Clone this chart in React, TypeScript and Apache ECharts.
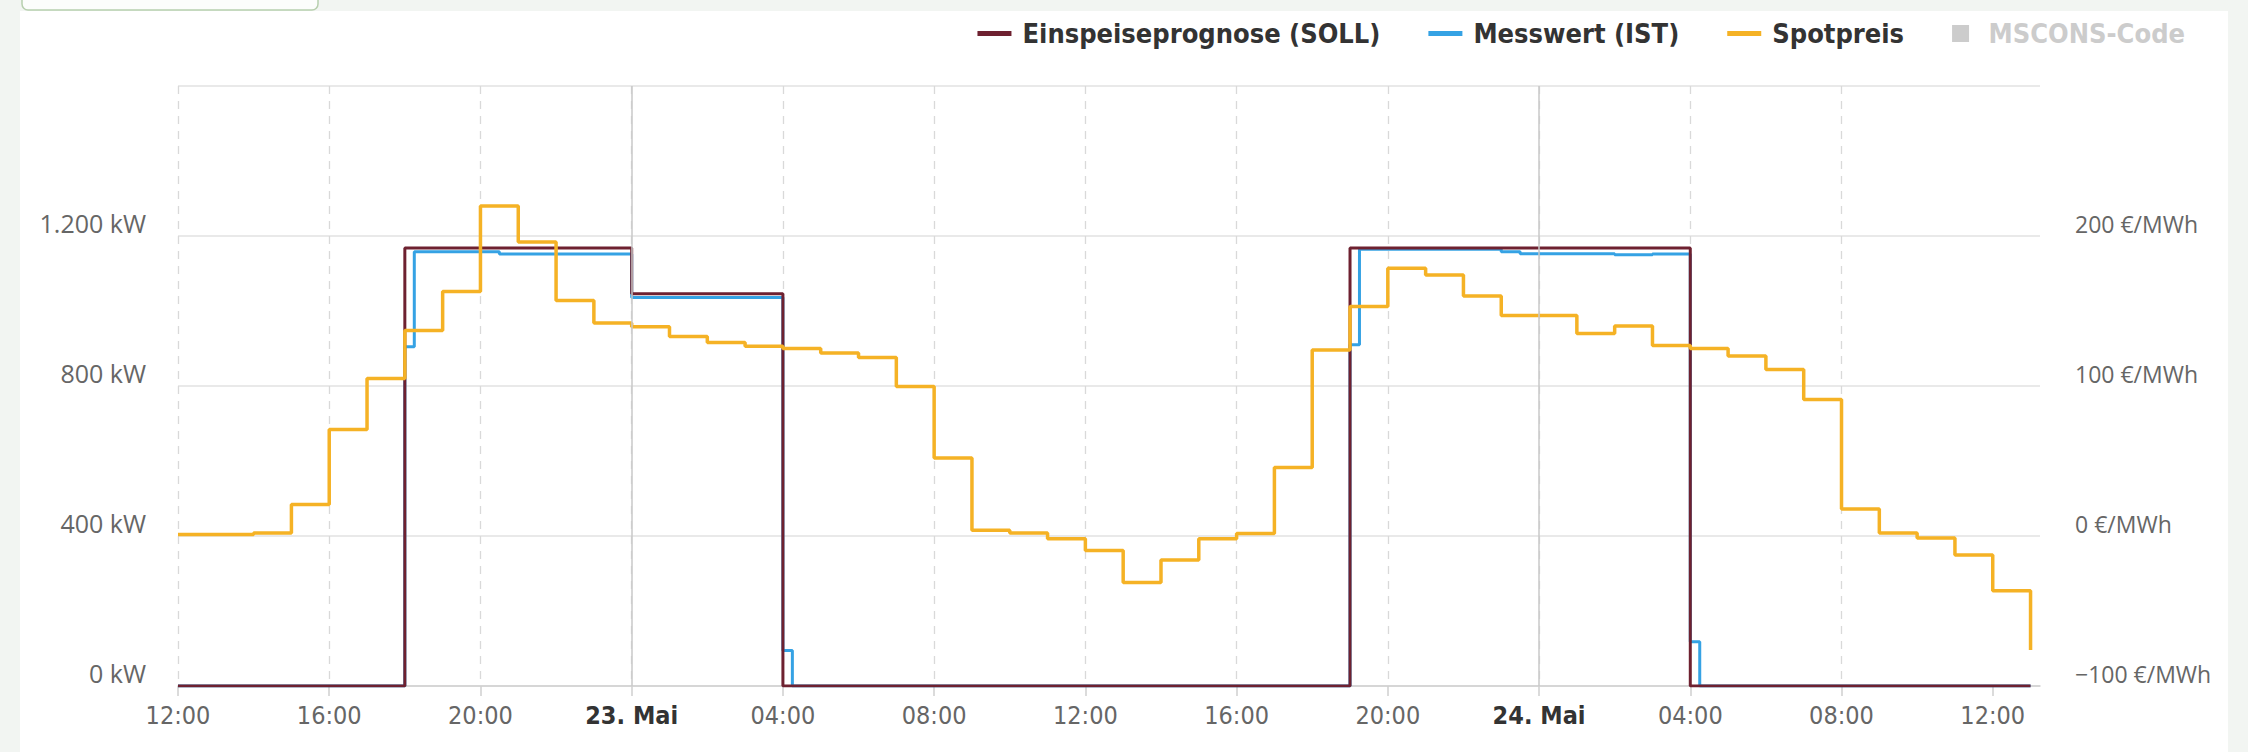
import React, { useEffect, useRef } from "react";
import * as echarts from "echarts";

const WIDTH = 2248;
const HEIGHT = 752;

// x values are hours since 22 May, 12:00
const xTickLabels = ["12:00", "16:00", "20:00", "23. Mai", "04:00", "08:00", "12:00", "16:00", "20:00", "24. Mai", "04:00", "08:00", "12:00"];
const boldTickLabels = ["23. Mai", "24. Mai"];
const dayBoundaryHours = [12, 36];
const X_MAX_HOURS = 49.25;

// Spotpreis, hourly values (€/MWh) starting 22 May 12:00
const spotPrices = [1, 1, 2, 21, 71, 105, 137, 163, 220, 196, 157, 142, 139.5, 133, 129, 126.5, 125, 122, 119, 99.6, 52, 3.8, 2, -1.8, -9.6, -31, -16, -1.8, 1.6, 45.7, 124, 153, 178.5, 174, 160, 147, 147, 135, 140, 127, 125, 120, 111, 91, 18, 2, -1.3, -12.6, -36.5, -76];

// Einspeiseprognose (SOLL), change points
const sollHours = [0, 6, 12, 16, 31, 40, 49];
const sollKW = [0, 1168, 1046, 0, 1168, 0, 0];

// Messwert (IST), change points
const istHours = [0, 6, 6.25, 8.5, 12, 16, 16.25, 31, 31.25, 35, 35.5, 38, 39, 40, 40.25, 49];
const istKW = [0, 905, 1158, 1152, 1036, 95, 0, 910, 1165, 1158, 1153, 1150, 1152, 118, 0, 0];

const seriesNames = ["Einspeiseprognose (SOLL)", "Messwert (IST)", "Spotpreis", "MSCONS-Code"];
const seriesColors = ["#6e2130", "#35a2e4", "#f5b225", "#cccccc"];

const fmtKW = (v: number) => {
  const s = v >= 1000 ? Math.floor(v / 1000) + "." + String(v % 1000).padStart(3, "0") : String(v);
  return s + " kW";
};
const fmtEur = (v: number) => (v < 0 ? "\u2212" + Math.abs(v) : String(v)) + " €/MWh";

const LABEL_FONT = '"Open Sans", "DejaVu Sans", sans-serif';
const NARROW_FONT = '"DejaVu Sans Condensed", sans-serif';
const LEGEND_FONT = '"DejaVu Sans Condensed", sans-serif';

export default function App() {
  const ref = useRef<HTMLDivElement>(null);
  useEffect(() => {
    if (!ref.current) return;
    const chart = echarts.init(ref.current, undefined, { renderer: "svg" });
    const lineIcon = "path://M0,0L34,0L34,5L0,5Z";
    const squareIcon = "path://M0,0L17,0L17,17L0,17Z";
    const tickValues = xTickLabels.map((_, i) => i * 4);
    const option: any = {
      animation: false,
      backgroundColor: "#ffffff",
      graphic: [
        { type: "rect", silent: true, z: 100, shape: { x: 0, y: 0, width: 20, height: HEIGHT }, style: { fill: "#f2f5f2" } },
        { type: "rect", silent: true, z: 100, shape: { x: 0, y: 0, width: WIDTH, height: 11 }, style: { fill: "#f2f5f2" } },
        { type: "rect", silent: true, z: 100, shape: { x: 2228, y: 0, width: 20, height: HEIGHT }, style: { fill: "#f2f5f2" } },
        { type: "rect", silent: true, z: 101, shape: { x: 22, y: -14, width: 296, height: 24, r: 6 }, style: { fill: "#fcfdfc", stroke: "#b7cfae", lineWidth: 1.5 } },
      ],
      legend: {
        top: 15,
        right: 58,
        itemWidth: 34,
        itemHeight: 17,
        itemGap: 48,
        inactiveColor: "#cccccc",
        textStyle: { fontFamily: LEGEND_FONT, fontWeight: "bold", fontSize: 27, color: "#333333", padding: [0, 0, 0, 6] },
        selected: { "MSCONS-Code": false },
        data: [
          { name: seriesNames[0], icon: lineIcon },
          { name: seriesNames[1], icon: lineIcon },
          { name: seriesNames[2], icon: lineIcon },
          { name: seriesNames[3], icon: squareIcon },
        ],
      },
      grid: { left: 178, right: WIDTH - 2040, top: 86, bottom: HEIGHT - 686 },
      xAxis: {
        type: "value",
        min: 0,
        max: X_MAX_HOURS,
        interval: 4,
        axisLine: { show: true, lineStyle: { color: "#cfcfcf", width: 1.5 } },
        axisTick: { show: true, length: 10, lineStyle: { color: "#cfcfcf", width: 1.5 }, customValues: tickValues },
        axisLabel: {
          customValues: tickValues,
          showMinLabel: true,
          showMaxLabel: true,
          margin: 17,
          fontFamily: NARROW_FONT,
          fontSize: 25,
          color: "#666666",
          formatter: (v: number) => {
            const lbl = xTickLabels[Math.round(v / 4)] ?? "";
            return boldTickLabels.includes(lbl) ? "{b|" + lbl + "}" : lbl;
          },
          rich: { b: { fontFamily: NARROW_FONT, fontSize: 25, fontWeight: "bold", color: "#333333" } },
        },
        splitLine: { show: true, showMaxLine: false, lineStyle: { color: "#d9d9d9", width: 1.3, type: [8, 7] } },
      },
      yAxis: [
        {
          type: "value",
          min: 0,
          max: 1600,
          interval: 400,
          axisLine: { show: false },
          axisTick: { show: false },
          axisLabel: {
            showMaxLabel: false,
            margin: 32,
            verticalAlign: "bottom",
            padding: [0, 0, 1, 0],
            fontFamily: LABEL_FONT,
            fontSize: 25,
            color: "#666666",
            formatter: fmtKW,
          },
          splitLine: { show: true, lineStyle: { color: "#e2e2e2", width: 1.5 } },
        },
        {
          type: "value",
          min: -100,
          max: 300,
          interval: 100,
          position: "right",
          axisLine: { show: false },
          axisTick: { show: false },
          axisLabel: {
            showMaxLabel: false,
            margin: 35,
            verticalAlign: "bottom",
            padding: [0, 0, 1, 0],
            fontFamily: LABEL_FONT,
            fontSize: 23,
            color: "#666666",
            formatter: fmtEur,
          },
          splitLine: { show: false },
        },
      ],
      series: [
        {
          name: "_daylines",
          type: "line",
          data: [],
          silent: true,
          markLine: {
            silent: true,
            symbol: ["none", "none"],
            label: { show: false },
            lineStyle: { color: "#c8c8c8", width: 1.5, type: "solid" },
            data: dayBoundaryHours.map((h) => ({ xAxis: h })),
          },
        },
        {
          name: seriesNames[1],
          type: "line",
          step: "end",
          showSymbol: false,
          color: seriesColors[1],
          lineStyle: { width: 3, color: seriesColors[1] },
          data: istHours.map((h, i) => [h, istKW[i]]),
        },
        {
          name: seriesNames[0],
          type: "line",
          step: "end",
          showSymbol: false,
          color: seriesColors[0],
          lineStyle: { width: 3, color: seriesColors[0] },
          data: sollHours.map((h, i) => [h, sollKW[i]]),
        },
        {
          name: seriesNames[2],
          type: "line",
          step: "end",
          yAxisIndex: 1,
          showSymbol: false,
          color: seriesColors[2],
          lineStyle: { width: 3.5, color: seriesColors[2] },
          data: spotPrices.map((p, i) => [i, p]),
        },
        {
          name: seriesNames[3],
          type: "line",
          color: seriesColors[3],
          data: [],
        },
      ],
    };
    chart.setOption(option);
    return () => chart.dispose();
  }, []);
  return (
    <div style={{ position: "absolute", left: 0, top: 0, width: WIDTH, height: HEIGHT }}>
      <div ref={ref} style={{ width: WIDTH, height: HEIGHT }} />
    </div>
  );
}
